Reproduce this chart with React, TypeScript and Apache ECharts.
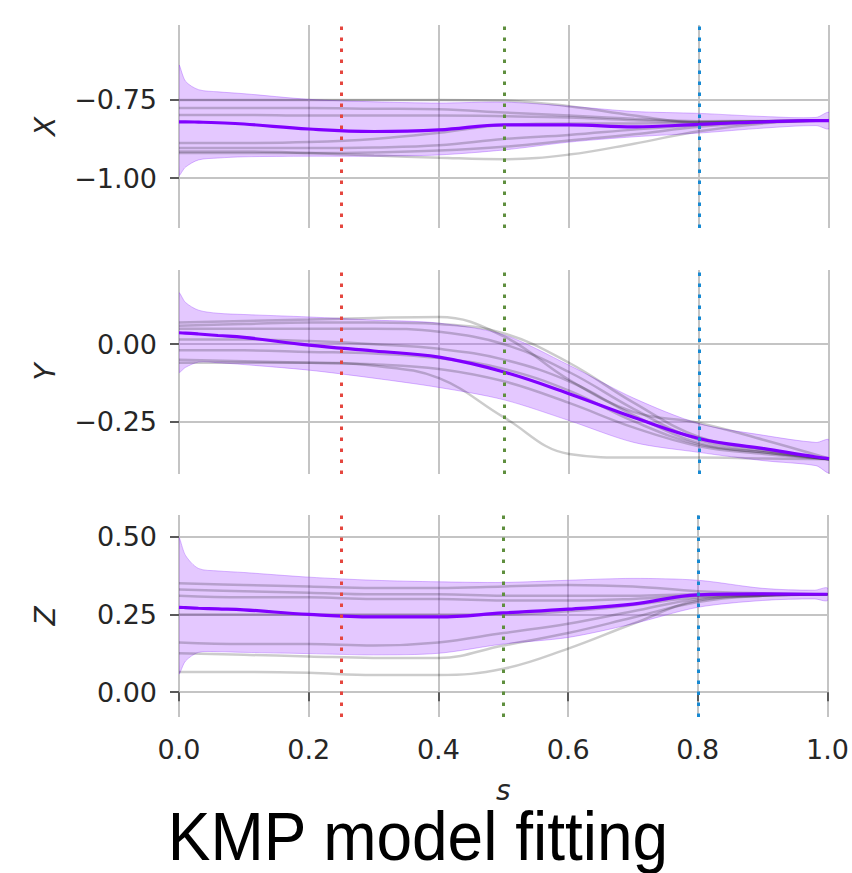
import React, { useEffect, useRef } from "react";
import * as echarts from "echarts";

// ---- data ----
const sBand = [0, 0.01, 0.03, 0.06, 0.1, 0.2, 0.3, 0.4, 0.5, 0.6, 0.7, 0.8, 0.9, 0.98, 1.0];
const sDemo = [0, 0.1, 0.2, 0.3, 0.4, 0.5, 0.6, 0.7, 0.8, 0.9, 1.0];
const sTicks = [0, 0.2, 0.4, 0.6, 0.8, 1.0];
const viaPoints = [0.25, 0.5, 0.8];
const viaColors = ["#e5463f", "#5f8f3e", "#1689d2"];

const meanX = [-0.82, -0.82, -0.821, -0.823, -0.827, -0.843, -0.851, -0.846, -0.83, -0.83, -0.836, -0.828, -0.82, -0.816, -0.816];
const upperX = [-0.64, -0.69, -0.717, -0.724, -0.73, -0.748, -0.756, -0.76, -0.757, -0.77, -0.787, -0.793, -0.803, -0.806, -0.79];
const lowerX = [-0.99, -0.965, -0.942, -0.936, -0.932, -0.93, -0.93, -0.926, -0.91, -0.885, -0.868, -0.856, -0.84, -0.832, -0.842];
const demosX = [
  [-0.75, -0.75, -0.75, -0.75, -0.75, -0.752, -0.77, -0.8, -0.822, -0.818, -0.816],
  [-0.776, -0.776, -0.776, -0.778, -0.78, -0.79, -0.8, -0.81, -0.818, -0.817, -0.816],
  [-0.798, -0.798, -0.8, -0.8, -0.8, -0.802, -0.806, -0.815, -0.82, -0.818, -0.816],
  [-0.888, -0.888, -0.885, -0.875, -0.855, -0.83, -0.825, -0.825, -0.822, -0.818, -0.816],
  [-0.904, -0.904, -0.904, -0.902, -0.895, -0.875, -0.862, -0.845, -0.83, -0.82, -0.816],
  [-0.92, -0.92, -0.92, -0.918, -0.912, -0.9, -0.88, -0.86, -0.836, -0.822, -0.816],
  [-0.915, -0.915, -0.92, -0.928, -0.935, -0.94, -0.925, -0.89, -0.85, -0.825, -0.816],
];

const meanY = [0.037, 0.036, 0.033, 0.028, 0.022, -0.003, -0.022, -0.042, -0.09, -0.16, -0.237, -0.305, -0.338, -0.365, -0.37];
const upperY = [0.165, 0.135, 0.11, 0.1, 0.096, 0.088, 0.078, 0.068, 0.03, -0.068, -0.175, -0.257, -0.295, -0.318, -0.31];
const lowerY = [-0.09, -0.075, -0.058, -0.06, -0.066, -0.084, -0.11, -0.14, -0.18, -0.247, -0.318, -0.35, -0.377, -0.393, -0.415];
const demosY = [
  [0.07, 0.075, 0.08, 0.085, 0.088, 0.025, -0.115, -0.22, -0.255, -0.31, -0.37],
  [0.06, 0.065, 0.07, 0.07, 0.065, 0.035, -0.06, -0.19, -0.3, -0.34, -0.372],
  [0.05, 0.05, 0.05, 0.05, 0.04, 0.0, -0.09, -0.21, -0.31, -0.345, -0.372],
  [0.015, 0.015, 0.01, 0.0, -0.015, -0.05, -0.12, -0.23, -0.32, -0.35, -0.372],
  [-0.02, -0.02, -0.025, -0.03, -0.045, -0.08, -0.15, -0.25, -0.325, -0.35, -0.372],
  [-0.05, -0.055, -0.06, -0.065, -0.08, -0.12, -0.19, -0.27, -0.33, -0.355, -0.372],
  [-0.06, -0.06, -0.06, -0.07, -0.11, -0.237, -0.355, -0.367, -0.367, -0.37, -0.372],
];

const meanZ = [0.273, 0.272, 0.27, 0.268, 0.265, 0.25, 0.242, 0.242, 0.255, 0.267, 0.283, 0.313, 0.316, 0.315, 0.315];
const upperZ = [0.495, 0.44, 0.398, 0.39, 0.385, 0.37, 0.36, 0.355, 0.353, 0.36, 0.366, 0.36, 0.334, 0.328, 0.335];
const lowerZ = [0.06, 0.1, 0.128, 0.13, 0.128, 0.124, 0.12, 0.125, 0.155, 0.176, 0.22, 0.273, 0.295, 0.3, 0.295];
const demosZ = [
  [0.35, 0.345, 0.34, 0.335, 0.335, 0.34, 0.345, 0.34, 0.325, 0.318, 0.315],
  [0.33, 0.325, 0.32, 0.315, 0.315, 0.31, 0.31, 0.31, 0.315, 0.315, 0.315],
  [0.31, 0.305, 0.305, 0.3, 0.3, 0.295, 0.295, 0.3, 0.31, 0.315, 0.315],
  [0.25, 0.25, 0.25, 0.25, 0.25, 0.25, 0.26, 0.28, 0.305, 0.312, 0.315],
  [0.16, 0.155, 0.155, 0.15, 0.16, 0.19, 0.22, 0.26, 0.3, 0.31, 0.315],
  [0.125, 0.12, 0.115, 0.11, 0.11, 0.15, 0.19, 0.24, 0.29, 0.31, 0.315],
  [0.065, 0.065, 0.062, 0.055, 0.055, 0.075, 0.14, 0.22, 0.295, 0.31, 0.315],
];

const ticksX = [-1.0, -0.75];
const ticksY = [-0.25, 0.0];
const ticksZ = [0.0, 0.25, 0.5];

const panelNames = ["X", "Y", "Z"];
const panelRanges = [
  [-1.16, -0.51],
  [-0.42, 0.24],
  [-0.08, 0.57],
];
const titleText = "KMP model fitting";
const xName = "s";

export default function App() {
  const ref = useRef<HTMLDivElement>(null);
  useEffect(() => {
    if (!ref.current) return;
    const chart = echarts.init(ref.current, null, { renderer: "svg" });
    const layout = [
      { top: 25, height: 203 },
      { top: 270, height: 204 },
      { top: 515, height: 202 },
    ];
    const panels = [
      { mean: meanX, upper: upperX, lower: lowerX, demos: demosX, ticks: ticksX },
      { mean: meanY, upper: upperY, lower: lowerY, demos: demosY, ticks: ticksY },
      { mean: meanZ, upper: upperZ, lower: lowerZ, demos: demosZ, ticks: ticksZ },
    ];
    const font = "DejaVu Sans";
    const labelColor = "#262626";
    const gridColor = "#c4c4c4";
    const tickColor = "#5a5a5a";
    const fmt = (v: number) => {
      const t = Math.abs(v) < 1e-9 ? "0.00" : v.toFixed(2);
      return t.replace("-", "\u2212");
    };

    const series: any[] = [];
    panels.forEach((p, i) => {
      series.push({
        type: "custom",
        xAxisIndex: i,
        yAxisIndex: i,
        clip: true,
        silent: true,
        z: 1,
        data: [[0, p.mean[0]]],
        renderItem: (_params: any, api: any) => {
          const pts: number[][] = [];
          p.upper.forEach((u, k) => pts.push(api.coord([sBand[k], u])));
          for (let k = p.lower.length - 1; k >= 0; k--) pts.push(api.coord([sBand[k], p.lower[k]]));
          return {
            type: "polygon",
            shape: { points: pts, smooth: 0.3 },
            style: { fill: "rgba(170,85,255,0.32)", stroke: "rgba(150,60,255,0.35)", lineWidth: 1 },
          };
        },
      });
      p.demos.forEach((d) => {
        series.push({
          type: "line",
          xAxisIndex: i,
          yAxisIndex: i,
          data: sDemo.map((s, k) => [s, d[k]]),
          showSymbol: false,
          smooth: 0.4,
          silent: true,
          z: 2,
          lineStyle: { color: "rgba(0,0,0,0.2)", width: 2.5 },
        });
      });
      series.push({
        type: "line",
        xAxisIndex: i,
        yAxisIndex: i,
        data: sBand.map((s, k) => [s, p.mean[k]]),
        showSymbol: false,
        smooth: 0.4,
        silent: true,
        z: 3,
        lineStyle: { color: "#8000ff", width: 3.2 },
        markLine: {
          silent: true,
          symbol: "none",
          label: { show: false },
          z: 5,
          lineStyle: { type: [3.5, 7.5], width: 3 },
          data: viaPoints.map((v, k) => ({ xAxis: v, lineStyle: { color: viaColors[k], type: [3.5, 7.5], width: 3 } })),
        },
      });
    });

    chart.setOption({
      animation: false,
      textStyle: { fontFamily: font },
      grid: layout.map((l) => ({ left: 179, width: 650, top: l.top, height: l.height })),
      xAxis: layout.map((_l, i) => ({
        gridIndex: i,
        type: "value",
        min: 0,
        max: 1,
        interval: 0.2,
        offset: i === 2 ? 3 : 0,
        axisLine: { show: false },
        axisTick: { show: i === 2, length: 9, lineStyle: { color: tickColor, width: 2 } },
        axisLabel: {
          show: i === 2,
          customValues: sTicks,
          formatter: (v: number) => v.toFixed(1),
          fontSize: 27,
          color: labelColor,
          fontFamily: font,
          margin: 16,
        },
        splitLine: { show: true, lineStyle: { color: gridColor, width: 2 } },
        name: i === 2 ? xName : "",
        nameLocation: "middle",
        nameGap: 56,
        nameTextStyle: { fontSize: 28, fontStyle: "italic", color: labelColor, fontFamily: font },
      })),
      yAxis: panels.map((p, i) => ({
        gridIndex: i,
        type: "value",
        min: panelRanges[i][0],
        max: panelRanges[i][1],
        offset: 2,
        axisLine: { show: false },
        axisTick: { show: true, length: 9, customValues: p.ticks, lineStyle: { color: tickColor, width: 2 } },
        axisLabel: {
          customValues: p.ticks,
          formatter: fmt,
          fontSize: 27,
          color: labelColor,
          fontFamily: font,
          margin: 20,
        },
        splitLine: { show: true, lineStyle: { color: gridColor, width: 2 } },
        name: panelNames[i],
        nameLocation: "middle",
        nameRotate: 90,
        nameGap: 118,
        nameTextStyle: { fontSize: 28, fontStyle: "italic", color: labelColor, fontFamily: font },
      })),
      series,
      graphic: [
        {
          type: "text",
          x: 418,
          y: 836,
          scaleY: 1.08,
          silent: true,
          style: {
            text: titleText,
            x: 0,
            y: 0,
            textAlign: "center",
            textVerticalAlign: "middle",
            fontSize: 64,
            fontFamily: "Liberation Sans",
            fill: "#000000",
          },
        },
      ],
    });
    return () => chart.dispose();
  }, []);
  return <div ref={ref} style={{ position: "absolute", left: 0, top: 0, width: 852, height: 873 }} />;
}
